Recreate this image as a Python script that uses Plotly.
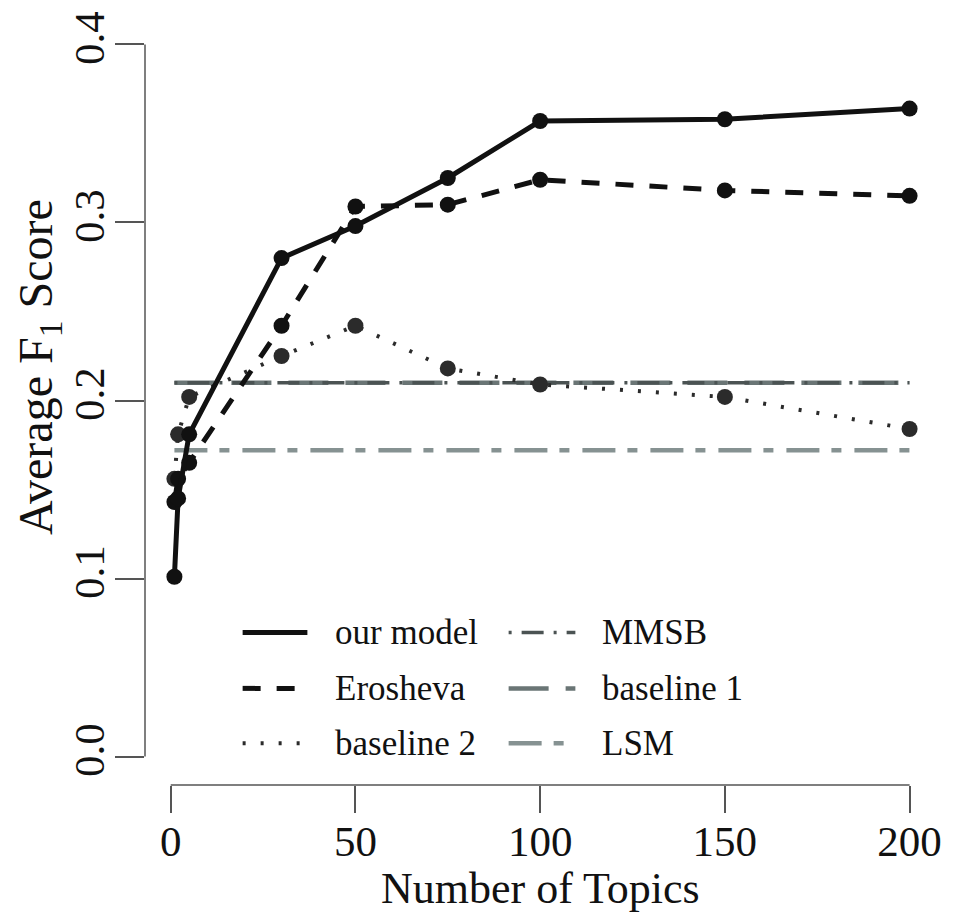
import plotly.graph_objects as go

# ---- data ----
topics = [1, 2, 5, 30, 50, 75, 100, 150, 200]
our_model = [0.101, 0.145, 0.181, 0.280, 0.298, 0.325, 0.357, 0.358, 0.364]
erosheva = [0.143, 0.156, 0.165, 0.242, 0.309, 0.310, 0.324, 0.318, 0.315]
baseline2 = [0.156, 0.181, 0.202, 0.225, 0.242, 0.218, 0.209, 0.202, 0.184]
mmsb_value = 0.210
baseline1_value = 0.210
lsm_value = 0.172
x_ticks = [0, 50, 100, 150, 200]
y_ticks = [0.0, 0.1, 0.2, 0.3, 0.4]
y_tick_labels = ["0.0", "0.1", "0.2", "0.3", "0.4"]

FONT = "Liberation Serif, Times New Roman, serif"
W, H = 953, 918
# plot region in page pixels
P_L, P_T, P_R, P_B = 145, 13, 942, 785
ML, MT = P_L, P_T
MR, MB = W - P_R, H - P_B
PW, PH = P_R - P_L, P_B - P_T

def px(xp):
    return (xp - P_L) / PW

def py(yp):
    return (P_B - yp) / PH

styles = {
    "our model": dict(color="#111111", width=5, dash="solid"),
    "Erosheva": dict(color="#111111", width=5, dash="18px,16px"),
    "baseline 2": dict(color="#2b2b2b", width=4, dash="3px,15px"),
    "MMSB": dict(color="#4b5353", width=3.5, dash="3px,10px,22px,10px"),
    "baseline 1": dict(color="#6a7575", width=4.5, dash="40px,17px"),
    "LSM": dict(color="#869292", width=4.5, dash="33px,12px,10px,13px"),
}

fig = go.Figure()
x_span = [topics[0], topics[-1]]
for name, val in [("LSM", lsm_value), ("baseline 1", baseline1_value), ("MMSB", mmsb_value)]:
    fig.add_trace(go.Scatter(x=x_span, y=[val, val], mode="lines", name=name,
                             line=styles[name], showlegend=False))
for name, vals in [("baseline 2", baseline2), ("Erosheva", erosheva), ("our model", our_model)]:
    st = styles[name]
    fig.add_trace(go.Scatter(x=topics, y=vals, mode="lines+markers", name=name,
                             line=st, marker=dict(size=16, color=st["color"]),
                             showlegend=False))

shapes = [
    dict(type="line", xref="x", yref="paper", x0=x_ticks[0], x1=x_ticks[-1], y0=0, y1=0,
         line=dict(color="#555555", width=1.5)),
    dict(type="line", xref="paper", yref="y", x0=0, x1=0, y0=y_ticks[0], y1=y_ticks[-1],
         line=dict(color="#555555", width=1.5)),
]
annotations = []

# manual legend (two columns, three rows)
legend_layout = [
    ("our model", 0, 0), ("Erosheva", 0, 1), ("baseline 2", 0, 2),
    ("MMSB", 1, 0), ("baseline 1", 1, 1), ("LSM", 1, 2),
]
col_sample = [(243, 308), (510, 577)]
col_text = [337, 605]
row_y = [632, 688, 743]
for name, c, r in legend_layout:
    st = styles[name]
    shapes.append(dict(type="line", xref="paper", yref="paper",
                       x0=px(col_sample[c][0]), x1=px(col_sample[c][1]),
                       y0=py(row_y[r]), y1=py(row_y[r]), line=st))
    annotations.append(dict(text=name, xref="paper", yref="paper", x=px(col_text[c] - 3),
                            y=py(row_y[r]), xanchor="left", yanchor="middle", showarrow=False,
                            font=dict(family=FONT, size=35, color="#111111")))

annotations.append(dict(text="Average F<sub>1</sub> Score", xref="paper", yref="paper",
                        x=px(38), y=py(365), textangle=-90, showarrow=False,
                        xanchor="center", yanchor="middle",
                        font=dict(family=FONT, size=48, color="#111111")))
annotations.append(dict(text="Number of Topics", xref="paper", yref="paper",
                        x=px(542), y=py(889), showarrow=False,
                        xanchor="center", yanchor="middle",
                        font=dict(family=FONT, size=44, color="#111111")))

fig.update_layout(
    width=W, height=H,
    margin=dict(l=ML, r=MR, t=MT, b=MB, pad=0),
    paper_bgcolor="white", plot_bgcolor="white",
    showlegend=False,
    font=dict(family=FONT, size=43, color="#111111"),
    shapes=shapes, annotations=annotations,
    xaxis=dict(range=[-6.96, 207.96], tickvals=x_ticks, ticks="outside", ticklen=27,
               tickwidth=1.5, tickcolor="#555555", showline=False, showgrid=False,
               zeroline=False, tickfont=dict(family=FONT, size=43, color="#111111"),
               ticklabelstandoff=-9),
    yaxis=dict(range=[-0.016, 0.416], tickvals=y_ticks, ticktext=y_tick_labels,
               ticks="outside", ticklen=29, tickwidth=1.5, tickcolor="#555555",
               tickangle=-90, showline=False, showgrid=False, zeroline=False,
               tickfont=dict(family=FONT, size=43, color="#111111"),
               ticklabelstandoff=-6),
)

fig.write_html("out.html", config={"displayModeBar": False},
               post_script="document.body.style.margin='0';document.body.style.overflow='hidden';")
